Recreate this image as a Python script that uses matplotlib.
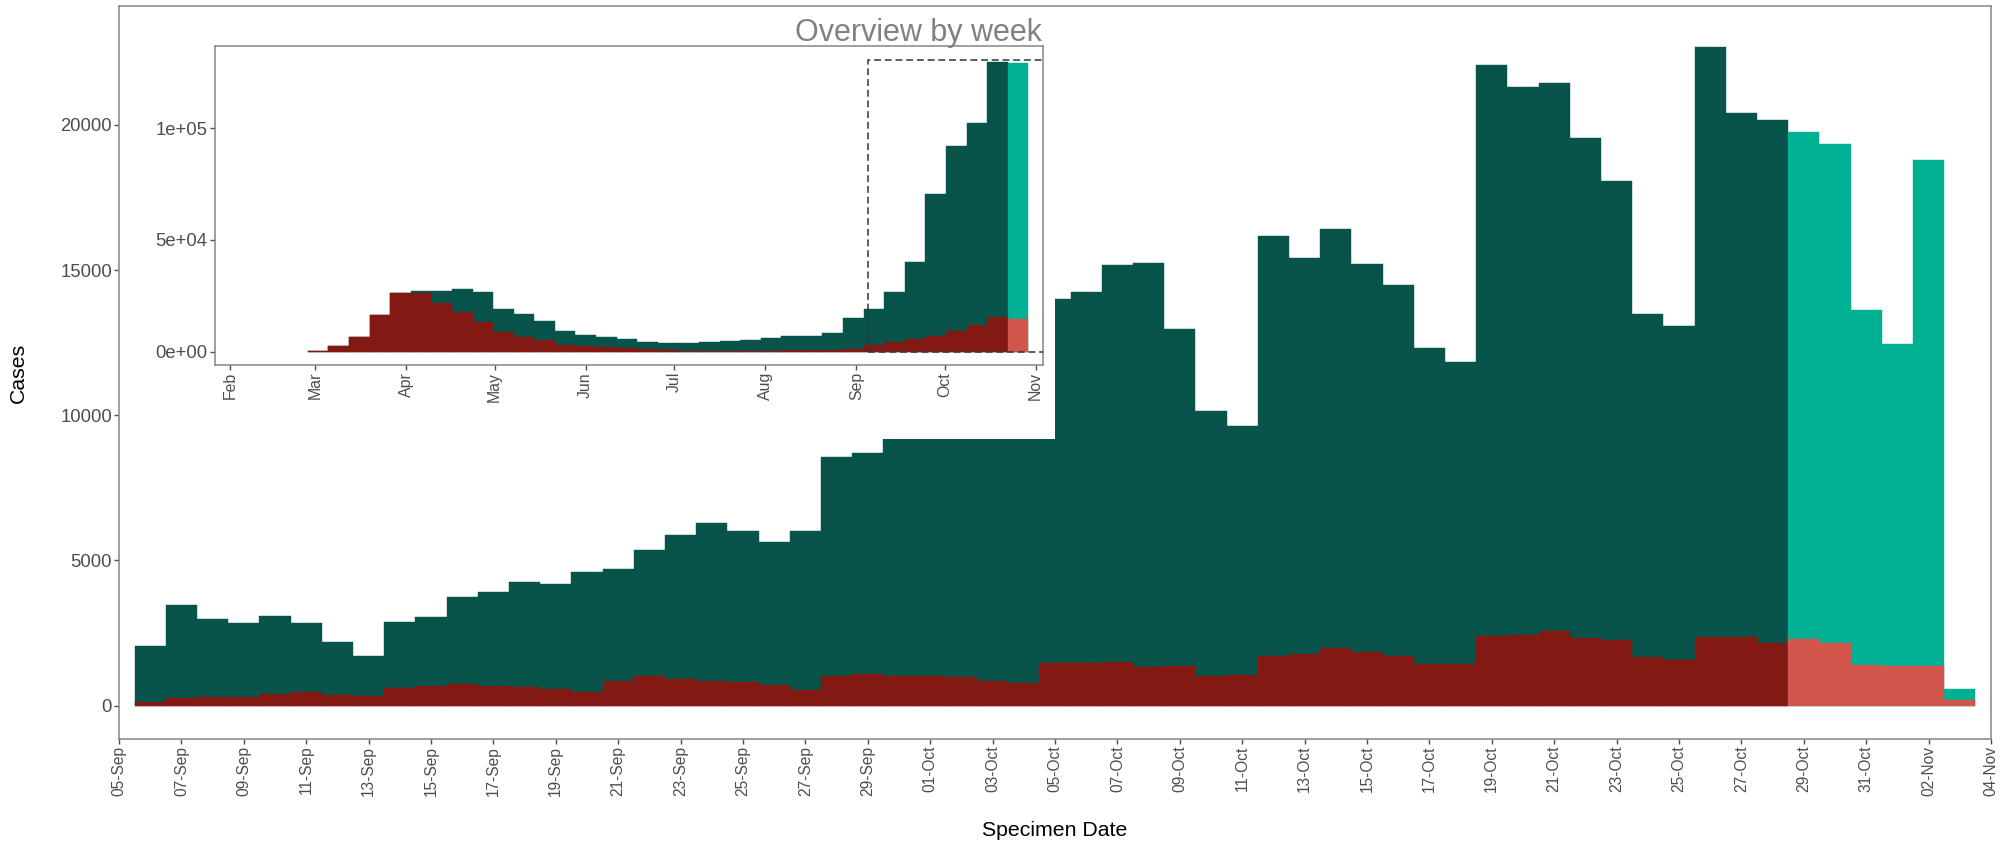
import datetime as dt

import matplotlib
matplotlib.use("Agg")
import matplotlib.pyplot as plt
import matplotlib.dates as mdates
from matplotlib.patches import Rectangle

plt.rcParams['font.family'] = ['Liberation Sans', 'DejaVu Sans']

# ---------------------------------------------------------------------------
# Daily counts by specimen date (06-Sep-2020 .. 03-Nov-2020)
# ---------------------------------------------------------------------------
day_first = dt.date(2020, 9, 6)
cases_daily = [
    2040, 3450, 2980, 2840, 3090, 2840, 2190, 1705,            # 06-13 Sep
    2890, 3040, 3740, 3910, 4255, 4175, 4600,                  # 14-20 Sep
    4690, 5350, 5873, 6275, 6023, 5632, 6011,                  # 21-27 Sep
    8560, 8709, 10200, 10900, 11000, 10900, 10400,             # 28 Sep-04 Oct
    14014, 14255, 15163, 15231, 12981, 10145, 9628,            # 05-11 Oct
    16162, 15404, 16403, 15208, 14496, 12326, 11833,           # 12-18 Oct
    22063, 21294, 21455, 19560, 18068, 13497, 13084,           # 19-25 Oct
    22700, 20421, 20157, 19767, 19353, 13624, 12441,           # 26 Oct-01 Nov
    18802, 568,                                                # 02-03 Nov
]
subgroup_daily = [
    110, 247, 281, 304, 396, 465, 350, 327,
    591, 660, 752, 683, 637, 568, 465,
    832, 1000, 913, 844, 821, 695, 522,
    1005, 1074, 1028, 1005, 970, 833, 764,
    1475, 1475, 1498, 1315, 1372, 1028, 1062,
    1717, 1785, 1992, 1854, 1694, 1430, 1430,
    2394, 2429, 2578, 2314, 2245, 1659, 1579,
    2348, 2348, 2153, 2279, 2153, 1395, 1361,
    1349, 189,
]
n_recent_days = 6          # latest days, counts still incomplete

# ---------------------------------------------------------------------------
# Weekly totals (weeks starting Monday 02-Mar-2020 .. 26-Oct-2020)
# ---------------------------------------------------------------------------
week_first = dt.date(2020, 3, 2)
cases_weekly = [
    350, 2450, 6650, 16500, 26300, 27070, 27370, 28115, 26770,
    19150, 16755, 13766, 9431, 7638, 6591, 5844, 4498, 3901,
    3901, 4200, 4798, 5246, 5993, 6900, 6900, 8300, 15111,
    19296, 26769, 40073, 70600, 92086, 102250, 129751, 129153,
]
subgroup_weekly = [
    330, 2408, 6591, 16457, 26173, 26470, 21837, 17801, 13466,
    8833, 6591, 5246, 3154, 2556, 1958, 1510, 1000, 650,
    500, 420, 400, 400, 420, 600, 800, 900, 1211,
    2855, 4498, 5695, 7040, 9431, 12121, 15411, 14514,
]
n_recent_weeks = 1

DARK_GREEN = '#08544a'
LIGHT_GREEN = '#00b092'
DARK_RED = '#821a13'
LIGHT_RED = '#d2564b'
TICK_GREY = '#4d4d4d'
FRAME_GREY = '#858585'


def two_tone(n, n_recent, old, new):
    return [old] * (n - n_recent) + [new] * n_recent


def style_frame(a):
    for s in a.spines.values():
        s.set_color(FRAME_GREY)
        s.set_linewidth(1.1)
    a.tick_params(colors=TICK_GREY, length=3.6, width=1.0)


W, H = 2005, 847
fig = plt.figure(figsize=(W / 100, H / 100), dpi=100)

# ---------------------------------------------------------------------------
# Main daily chart
# ---------------------------------------------------------------------------
ax = fig.add_axes([119 / W, 1 - 739 / H, (1991 - 119) / W, (739 - 6.5) / H])

x_days = mdates.date2num([day_first + dt.timedelta(days=i)
                          for i in range(len(cases_daily))])
g_cols = two_tone(len(cases_daily), n_recent_days, DARK_GREEN, LIGHT_GREEN)
r_cols = two_tone(len(subgroup_daily), n_recent_days, DARK_RED, LIGHT_RED)
ax.bar(x_days, cases_daily, width=1.0, color=g_cols, edgecolor=g_cols,
       linewidth=0.3, zorder=2)
ax.bar(x_days, subgroup_daily, width=1.0, color=r_cols, edgecolor=r_cols,
       linewidth=0.3, zorder=2.1)

x_lo = mdates.date2num(dt.date(2020, 9, 5))
x_hi = mdates.date2num(dt.date(2020, 11, 4))
ax.set_xlim(x_lo, x_hi)
ax.set_ylim(-1154, 24079)

ax.set_xticks([x_lo + 2 * k for k in range(31)])
ax.xaxis.set_major_formatter(mdates.DateFormatter('%d-%b'))
ax.set_yticks([0, 5000, 10000, 15000, 20000])
ax.set_yticklabels(['0', '5000', '10000', '15000', '20000'])
style_frame(ax)
ax.tick_params(axis='x', labelsize=11.2, labelrotation=90, pad=1.2)
ax.tick_params(axis='y', labelsize=13.3, pad=1.5)
for lab in ax.get_xticklabels():
    lab.set_ha('center')
    lab.set_va('top')

# white backing for the weekly overview panel
ax.add_patch(Rectangle((x_lo, 9170), mdates.date2num(dt.date(2020, 10, 5)) - x_lo,
                       24030 - 9170, facecolor='white', edgecolor='none',
                       zorder=2.3))

fig.text(18.7 / W, 1 - 372.8 / H, 'Cases', rotation=90, ha='center',
         va='center', fontsize=15.3, color='black')
fig.text(1055 / W, 1 - 830 / H, 'Specimen Date', ha='center', va='center',
         fontsize=15.3, color='black')

# ---------------------------------------------------------------------------
# Weekly overview inset
# ---------------------------------------------------------------------------
ins = fig.add_axes([214.7 / W, 1 - 365.3 / H, (1043.3 - 214.7) / W,
                    (365.3 - 46) / H])
x_weeks = mdates.date2num([week_first + dt.timedelta(weeks=i)
                           for i in range(len(cases_weekly))])
gw_cols = two_tone(len(cases_weekly), n_recent_weeks, DARK_GREEN, LIGHT_GREEN)
rw_cols = two_tone(len(subgroup_weekly), n_recent_weeks, DARK_RED, LIGHT_RED)
ins.bar(x_weeks, cases_weekly, width=7.0, color=gw_cols, edgecolor=gw_cols,
        linewidth=0.3, zorder=2)
ins.bar(x_weeks, subgroup_weekly, width=7.0, color=rw_cols, edgecolor=rw_cols,
        linewidth=0.3, zorder=2.1)

feb1 = mdates.date2num(dt.date(2020, 2, 1))
nov1 = mdates.date2num(dt.date(2020, 11, 1))
ins.set_xlim(feb1 - 5.2, nov1 + 2.6)
ins.set_ylim(-6090, 136840)

# dashed frame marking the span of the daily chart
ins.add_patch(Rectangle((x_lo, 0), x_hi - x_lo, 130400, fill=False,
                        edgecolor='#333333', linewidth=1.1,
                        linestyle=(0, (4.5, 2.5)), zorder=3, clip_on=True))

ins.set_xticks(mdates.date2num([dt.date(2020, m, 1) for m in range(2, 12)]))
ins.xaxis.set_major_formatter(mdates.DateFormatter('%b'))
ins.set_yticks([0, 50000, 100000])
ins.set_yticklabels(['0e+00', '5e+04', '1e+05'])
style_frame(ins)
ins.tick_params(axis='x', labelsize=11.4, labelrotation=90, pad=1.2)
ins.tick_params(axis='y', labelsize=13.3, pad=1.5)
for lab in ins.get_xticklabels():
    lab.set_ha('center')
    lab.set_va('top')

fig.text(1042 / W, 1 - 41.5 / H, 'Overview by week', ha='right',
         va='baseline', fontsize=22, color='#808080')

fig.savefig('out.png', dpi=100)
